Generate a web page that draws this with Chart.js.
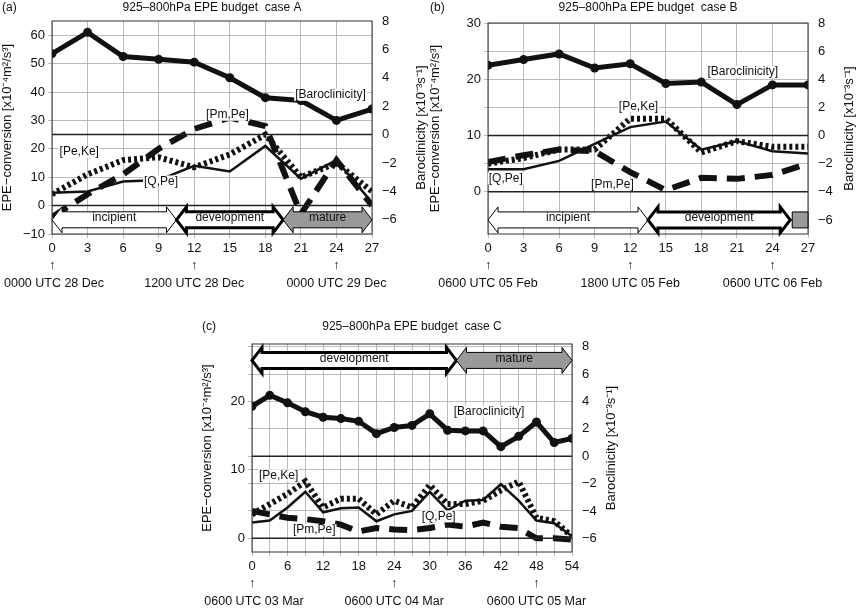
<!DOCTYPE html>
<html><head><meta charset="utf-8">
<script src="https://cdn.jsdelivr.net/npm/chart.js@4.4.0/dist/chart.umd.min.js"></script>
<style>
body{margin:0;background:#fff;width:858px;height:608px;position:relative;overflow:hidden}
.p{position:absolute}
</style></head><body>
<div class="p" style="left:0;top:0;width:430px;height:290px"><canvas id="cA"></canvas></div>
<div class="p" style="left:428px;top:0;width:430px;height:290px"><canvas id="cB"></canvas></div>
<div class="p" style="left:200px;top:310px;width:420px;height:298px"><canvas id="cC"></canvas></div>
<script>
// ---- data ----
var hoursAB = [0,3,6,9,12,15,18,21,24,27];
var baroA = [5.7,7.2,5.5,5.3,5.1,4.0,2.6,2.4,1.0,1.8];
var qpeA  = [4.5,5,8.5,9,14,12,21,9.5,16,1];
var pekeA = [4,11,16,17,13.5,18,25,10,15,5];
var pmpeA = [-4,4,11,20,27,31,28,-3,16,0];

var baroB = [5.0,5.4,5.8,4.8,5.1,3.7,3.8,2.2,3.6,3.6];
var qpeB  = [4,4,5.5,8.5,11.5,12.5,7.5,9,7.2,6.8];
var pekeB = [5,6,7.5,7.5,13,13,7,9,8,8];
var pmpeB = [5.3,6.5,7.5,7.2,3.5,0.3,2.5,2.3,3,5];

var hoursC = [0,3,6,9,12,15,18,21,24,27,30,33,36,39,42,45,48,51,54];
var baroC = [3.65,4.45,3.9,3.25,2.85,2.75,2.55,1.65,2.1,2.25,3.1,1.9,1.85,1.85,0.7,1.45,2.5,1.0,1.3];
var qpeC  = [2.3,2.6,4.5,6.8,3.8,4.4,4.5,2.5,3.5,4,6.8,4.1,5.5,5.6,7.9,5.5,2.6,2.2,0.3];
var pekeC = [3.5,5,6.5,8.3,4.5,5.8,5.8,3.5,5.5,4.5,7.8,5,5,5.5,7,8.3,3,2.5,0.3];
var pmpeC = [4,3.5,3,2.8,2.5,2,1,1.5,1.3,1.2,1.5,2,1.7,2.3,1.7,1.5,0,0,-0.2];

// phases: [name, start hour, end hour, style]
var phasesA = [["incipient",0,10.5,"i"],["development",10.5,19.5,"d"],["mature",19.5,27,"m"]];
var phasesB = [["incipient",0,13.5,"i"],["development",13.5,25.5,"d"],["",25.5,27,"box"]];
var phasesC = [["development",0,34.5,"d"],["mature",34.5,54,"m"]];

var datesA = [[0,"0000 UTC 28 Dec"],[12,"1200 UTC 28 Dec"],[24,"0000 UTC 29 Dec"]];
var datesB = [[0,"0600 UTC 05 Feb"],[12,"1800 UTC 05 Feb"],[24,"0600 UTC 06 Feb"]];
var datesC = [[0,"0600 UTC 03 Mar"],[24,"0600 UTC 04 Mar"],[48,"0600 UTC 05 Mar"]];

var FONT = "'Liberation Sans', Arial, sans-serif";
Chart.defaults.font.family = FONT;
Chart.defaults.color = "#111";

var extras = {
  id: "extras",
  afterDraw: function(chart, args, o) {
    var c = chart.ctx, a = chart.chartArea, x = chart.scales.x, yl = chart.scales.y, yr = chart.scales.y2;
    c.save();
    // reference lines
    c.strokeStyle = "#222"; c.lineWidth = 1.5;
    o.refs.forEach(function(v){ var yy = yl.getPixelForValue(v); c.beginPath(); c.moveTo(a.left,yy); c.lineTo(a.right,yy); c.stroke(); });
    c.strokeStyle = "#333"; c.lineWidth = 1; c.strokeRect(a.left,a.top,a.right-a.left,a.bottom-a.top);
    // phase arrows
    var yc = yr.getPixelForValue(o.phaseY), hb = 8, hh = 13, hl = 10;
    o.phases.forEach(function(p){
      var x1 = x.getPixelForValue(p[1]), x2 = x.getPixelForValue(p[2]);
      c.beginPath();
      if (p[3]==="box") { c.rect(x1+2,yc-hb,x2-x1-2,2*hb); }
      else {
        c.moveTo(x1,yc); c.lineTo(x1+hl,yc-hh); c.lineTo(x1+hl,yc-hb); c.lineTo(x2-hl,yc-hb);
        c.lineTo(x2-hl,yc-hh); c.lineTo(x2,yc); c.lineTo(x2-hl,yc+hh); c.lineTo(x2-hl,yc+hb);
        c.lineTo(x1+hl,yc+hb); c.lineTo(x1+hl,yc+hh); c.closePath();
      }
      c.fillStyle = (p[3]==="m"||p[3]==="box") ? "#999" : "#fff"; c.fill();
      c.strokeStyle = "#000"; c.lineWidth = p[3]==="d" ? 3 : 1; c.stroke();
      c.fillStyle = "#111"; c.font = "12px "+FONT; c.textAlign = "center"; c.textBaseline = "middle";
      if (p[0]) c.fillText(p[0],(x1+x2)/2,yc-2);
    });
    // labels
    c.font = "12px "+FONT; c.textAlign = "center"; c.textBaseline = "middle";
    o.labels.forEach(function(l){
      var xx = x.getPixelForValue(l[1]), yy = yl.getPixelForValue(l[2]);
      var w = c.measureText(l[0]).width + 2;
      c.fillStyle = "#fff"; c.fillRect(xx-w/2,yy-6,w,12);
      c.fillStyle = "#111"; c.fillText(l[0],xx,yy);
    });
    // dates
    c.font = "12.5px "+FONT;
    o.dates.forEach(function(d){
      var xx = x.getPixelForValue(d[0]);
      c.fillText("\u2191",xx,a.bottom+32);
      c.fillText(d[1],Math.max(xx,54),a.bottom+50);
    });
    // right axis title, reading bottom to top
    c.save();
    c.translate(a.right + o.rw - 9, (a.top+a.bottom)/2);
    c.rotate(-Math.PI/2);
    c.font = "13px "+FONT;
    c.fillText("Baroclinicity [x10\u207B\u00B3s\u207B\u00B9]",0,0);
    c.restore();
    // panel label / title
    c.textAlign = "left"; c.font = "12px "+FONT; c.fillText(o.panel,2,o.titleY);
    c.textAlign = "center"; c.fillText(o.title,(a.left+a.right)/2,o.titleY);
    c.restore();
  }
};

function make(id, hours, baro, qpe, peke, pmpe, cfg) {
  new Chart(document.getElementById(id), {
    type: "line",
    data: { datasets: [
      { data: hours.map(function(h,i){return {x:h,y:baro[i]};}), yAxisID:"y2", borderColor:"#111", borderWidth:5, pointRadius:4.5, pointBackgroundColor:"#111", pointBorderWidth:0 },
      { data: hours.map(function(h,i){return {x:h,y:qpe[i]};}), yAxisID:"y", borderColor:"#111", borderWidth:2.5, pointRadius:0 },
      { data: hours.map(function(h,i){return {x:h,y:peke[i]};}), yAxisID:"y", borderColor:"#111", borderWidth:6, borderDash:[3,3], pointRadius:0 },
      { data: hours.map(function(h,i){return {x:h,y:pmpe[i]};}), yAxisID:"y", borderColor:"#111", borderWidth:6, borderDash:[18,10], pointRadius:0 }
    ]},
    options: {
      responsive:true, maintainAspectRatio:false, animation:false,
      layout:{ padding:{ top:cfg.top, bottom:36 } },
      plugins:{ legend:{display:false}, tooltip:{enabled:false},
        extras:{ refs:cfg.refs, phases:cfg.phases, phaseY:cfg.phaseY, labels:cfg.labels, dates:cfg.dates, panel:cfg.panel, title:cfg.title, titleY:cfg.titleY, rw:cfg.rw } },
      scales:{
        x:{ type:"linear", min:0, max:hours[hours.length-1], afterFit:function(s){s.height=20;},
            ticks:{ stepSize:3, autoSkip:false, font:{size:13}, maxRotation:0, callback:function(v){ return v % cfg.xlab===0 ? v : ""; } },
            grid:{ color:"#aaa", lineWidth:0.8, tickLength:4 }, border:{display:false} },
        y:{ position:"left", min:cfg.lmin, max:cfg.lmax, afterFit:function(s){s.width=cfg.lw;},
            afterBuildTicks:function(s){ s.ticks = cfg.lgrid.map(function(v){return {value:v};}); },
            ticks:{ font:{size:13}, callback:function(v){ return cfg.llab.indexOf(v)>=0 ? String(v).replace("-","\u2212") : ""; } },
            grid:{ color:"#aaa", lineWidth:0.8, tickLength:4 }, border:{display:false},
            title:{ display:true, text:"EPE\u2212conversion [x10\u207B\u2074m\u00B2/s\u00B3]", font:{size:13}, padding:0 } },
        y2:{ position:"right", min:cfg.rmin, max:cfg.rmax, afterFit:function(s){s.width=cfg.rw;},
            afterBuildTicks:function(s){ s.ticks = [-6,-4,-2,0,2,4,6,8].map(function(v){return {value:v};}); },
            ticks:{ font:{size:13}, padding:6, callback:function(v){ return String(v).replace("-","\u2212"); } },
            grid:{ display:false, tickLength:4 }, border:{display:false} }
      }
    },
    plugins:[extras]
  });
}

make("cA", hoursAB, baroA, qpeA, pekeA, pmpeA, {
  top:21, lw:52, rw:58, lmin:-10, lmax:65, rmin:-7, rmax:8, xlab:3,
  lgrid:[-10,0,10,20,30,40,50,60], llab:[-10,0,10,20,30,40,50,60], refs:[25,0],
  phases:phasesA, phaseY:-6, dates:datesA, panel:"(a)", title:"925\u2013800hPa EPE budget  case A", titleY:8,
  labels:[["[Baroclinicity]",23.5,39],["[Pm,Pe]",14.8,32],["[Pe,Ke]",2.3,19],["[Q,Pe]",9.2,8.5]]
});
make("cB", hoursAB, baroB, qpeB, pekeB, pmpeB, {
  top:23, lw:60, rw:50, lmin:-7.5, lmax:30, rmin:-7, rmax:8, xlab:3,
  lgrid:[0,5,10,15,20,25,30], llab:[0,10,20,30], refs:[10,0],
  phases:phasesB, phaseY:-6, dates:datesB, panel:"(b)", title:"925\u2013800hPa EPE budget  case B", titleY:8,
  labels:[["[Baroclinicity]",21.5,21.3],["[Pe,Ke]",12.7,15.2],["[Q,Pe]",1.5,2.4],["[Pm,Pe]",10.5,1.2]]
});
make("cC", hoursC, baroC, qpeC, pekeC, pmpeC, {
  top:34, lw:52, rw:48, lmin:-2, lmax:28.4, rmin:-7, rmax:8.2, xlab:6,
  lgrid:[0,4,8,12,16,20,24,28,10], llab:[0,10,20], refs:[12,0],
  phases:phasesC, phaseY:7, dates:datesC, panel:"(c)", title:"925\u2013800hPa EPE budget  case C", titleY:17,
  labels:[["[Baroclinicity]",40,18.5],["[Pe,Ke]",4.5,9.2],["[Q,Pe]",31.5,3.2],["[Pm,Pe]",10.5,1.2]]
});
</script>
</body></html>
